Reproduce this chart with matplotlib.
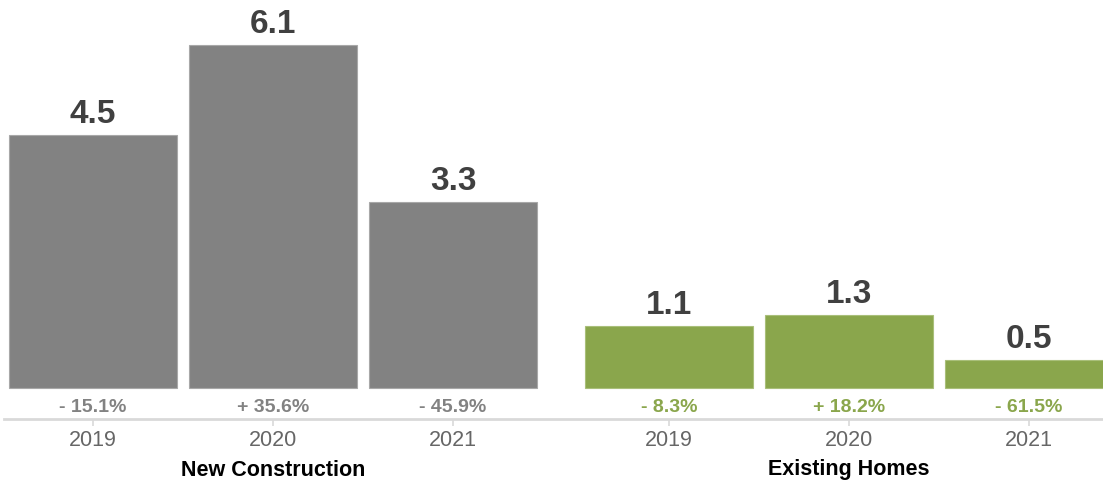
"""
    Sloupcový graf: nová výstavba vs. existující domy
"""
import matplotlib.pyplot as plt
from matplotlib.transforms import blended_transform_factory

plt.rcParams['font.family'] = ['Liberation Sans', 'DejaVu Sans']

groups = ["New Construction", "Existing Homes"]
years = ["2019", "2020", "2021"]
new_construction = [4.5, 6.1, 3.3]
existing_homes = [1.1, 1.3, 0.5]
nc_changes = ["- 15.1%", "+ 35.6%", "- 45.9%"]
eh_changes = ["- 8.3%", "+ 18.2%", "- 61.5%"]

GRAY = "#828282"
GREEN = "#8aa64c"


def main():
    fig = plt.figure(figsize=(11.03, 4.84), dpi=100)
    ax = fig.add_axes([0.0036, 1 - 419 / 484, 0.9964, 419 / 484])

    nc_pos = [0, 1, 2]
    eh_pos = [3.2, 4.2, 5.2]
    width = 0.93

    ax.bar(nc_pos, new_construction, width=width, color=GRAY,
           edgecolor="#a8a8a8", linewidth=0.8)
    ax.bar(eh_pos, existing_homes, width=width, color=GREEN,
           edgecolor="#a9bf7a", linewidth=0.8)

    # Popisky hodnot nad sloupci a procentní změny pod nimi
    for pos, vals, changes, col in ((nc_pos, new_construction, nc_changes, GRAY),
                                    (eh_pos, existing_homes, eh_changes, GREEN)):
        for x, v, ch in zip(pos, vals, changes):
            ax.annotate(f"{v:.1f}", xy=(x, v), xytext=(0, 5),
                        textcoords="offset pixels", ha="center", va="bottom",
                        fontsize=24, fontweight="bold", color="#404040")
            ax.annotate(ch, xy=(x, 0), xytext=(0, -19),
                        textcoords="offset pixels", ha="center", va="center",
                        fontsize=14, fontweight="bold", color=col)

    ax.set_xlim(-0.494, 5.61)
    ax.set_ylim(-0.55, 6.9)

    ax.set_xticks(nc_pos + eh_pos)
    ax.set_xticklabels(years + years)
    ax.set_yticks([])
    ax.tick_params(axis="x", length=5, width=1.2, color="#d9d9d9",
                   labelsize=15.5, labelcolor="#666666", pad=3)

    for side in ("left", "right", "top"):
        ax.spines[side].set_visible(False)
    ax.spines["bottom"].set_color("#d9d9d9")
    ax.spines["bottom"].set_linewidth(2)

    # Názvy skupin pod osou
    trans = blended_transform_factory(ax.transData, fig.transFigure)
    ax.text(sum(nc_pos) / 3, 1 - 470 / 484, groups[0], transform=trans,
            ha="center", va="center", fontsize=15.5, fontweight="bold",
            color="black")
    ax.text(sum(eh_pos) / 3, 1 - 470 / 484, groups[1], transform=trans,
            ha="center", va="center", fontsize=15.5, fontweight="bold",
            color="black")

    fig.savefig("out.png", dpi=100)


if __name__ == "__main__":
    main()
